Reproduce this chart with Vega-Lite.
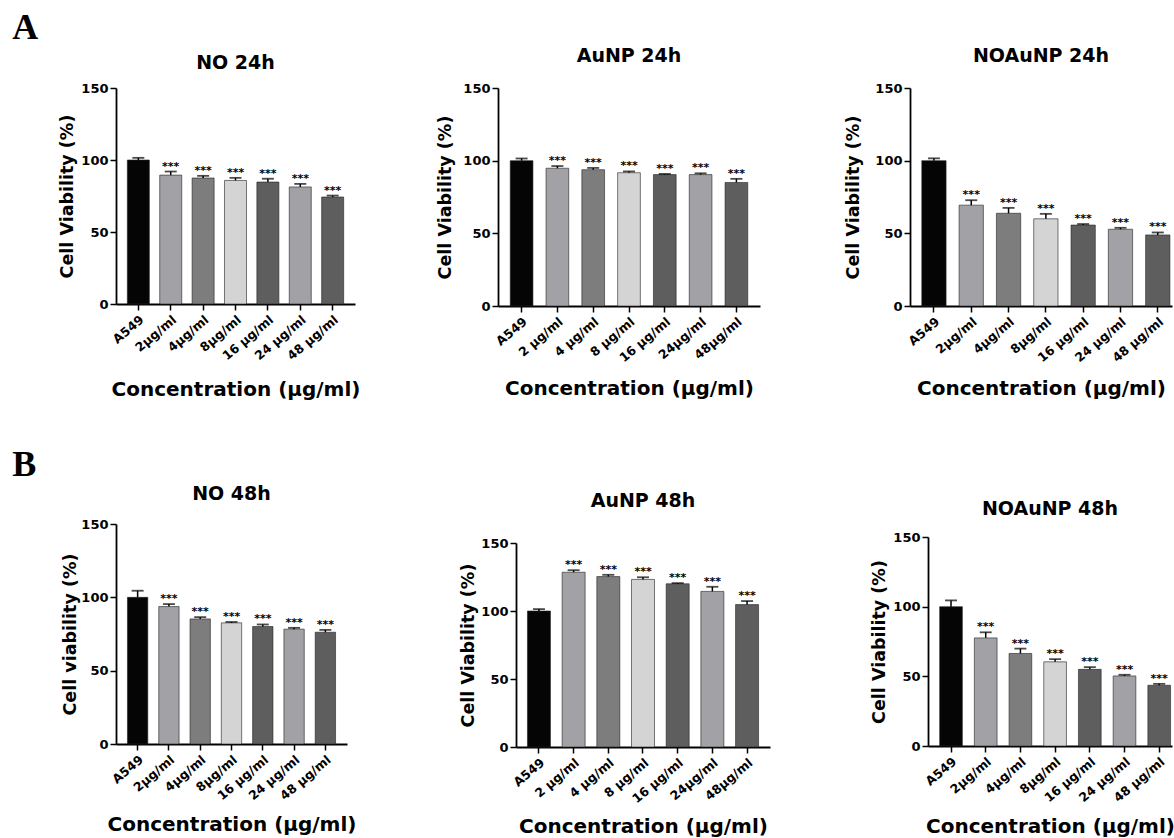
{
  "$schema": "https://vega.github.io/schema/vega-lite/v6.json",
  "padding": {"left": 12, "top": 10, "right": 0, "bottom": 0},
  "background": "white",
  "datasets": {
    "no24": [
      {"label": "A549", "dose": "A549", "mean": 100, "upper": 101.5, "sig": ""},
      {"label": "2µg/ml", "dose": "2", "mean": 89.5, "upper": 92, "sig": "***"},
      {"label": "4µg/ml", "dose": "4", "mean": 87.5, "upper": 89, "sig": "***"},
      {"label": "8µg/ml", "dose": "8", "mean": 85.8, "upper": 87.6, "sig": "***"},
      {"label": "16 µg/ml", "dose": "16", "mean": 84.7, "upper": 87, "sig": "***"},
      {"label": "24 µg/ml", "dose": "24", "mean": 81.3, "upper": 83.4, "sig": "***"},
      {"label": "48 µg/ml", "dose": "48", "mean": 74.3, "upper": 75.3, "sig": "***"}
    ],
    "au24": [
      {"label": "A549", "dose": "A549", "mean": 100, "upper": 101.5, "sig": ""},
      {"label": "2 µg/ml", "dose": "2", "mean": 94.8, "upper": 96.3, "sig": "***"},
      {"label": "4 µg/ml", "dose": "4", "mean": 93.8, "upper": 95, "sig": "***"},
      {"label": "8 µg/ml", "dose": "8", "mean": 91.7, "upper": 92.6, "sig": "***"},
      {"label": "16 µg/ml", "dose": "16", "mean": 90.4, "upper": 90.9, "sig": "***"},
      {"label": "24µg/ml", "dose": "24", "mean": 90.4, "upper": 91.3, "sig": "***"},
      {"label": "48µg/ml", "dose": "48", "mean": 85, "upper": 87.5, "sig": "***"}
    ],
    "noau24": [
      {"label": "A549", "dose": "A549", "mean": 100, "upper": 101.6, "sig": ""},
      {"label": "2µg/ml", "dose": "2", "mean": 69.4, "upper": 72.8, "sig": "***"},
      {"label": "4µg/ml", "dose": "4", "mean": 63.8, "upper": 67.5, "sig": "***"},
      {"label": "8µg/ml", "dose": "8", "mean": 60, "upper": 63.4, "sig": "***"},
      {"label": "16 µg/ml", "dose": "16", "mean": 55.7, "upper": 56.4, "sig": "***"},
      {"label": "24 µg/ml", "dose": "24", "mean": 52.8, "upper": 53.8, "sig": "***"},
      {"label": "48 µg/ml", "dose": "48", "mean": 48.9, "upper": 50.6, "sig": "***"}
    ],
    "no48": [
      {"label": "A549", "dose": "A549", "mean": 100, "upper": 104.5, "sig": ""},
      {"label": "2µg/ml", "dose": "2", "mean": 93.7, "upper": 95.4, "sig": "***"},
      {"label": "4µg/ml", "dose": "4", "mean": 85.3, "upper": 86.5, "sig": "***"},
      {"label": "8µg/ml", "dose": "8", "mean": 82.6, "upper": 83.2, "sig": "***"},
      {"label": "16 µg/ml", "dose": "16", "mean": 80.1, "upper": 81.5, "sig": "***"},
      {"label": "24 µg/ml", "dose": "24", "mean": 78.3, "upper": 79.2, "sig": "***"},
      {"label": "48 µg/ml", "dose": "48", "mean": 76.2, "upper": 77.8, "sig": "***"}
    ],
    "au48": [
      {"label": "A549", "dose": "A549", "mean": 100, "upper": 101.4, "sig": ""},
      {"label": "2 µg/ml", "dose": "2", "mean": 128.5, "upper": 130, "sig": "***"},
      {"label": "4 µg/ml", "dose": "4", "mean": 125.3, "upper": 126.6, "sig": "***"},
      {"label": "8 µg/ml", "dose": "8", "mean": 123.2, "upper": 124.8, "sig": "***"},
      {"label": "16 µg/ml", "dose": "16", "mean": 120, "upper": 120.5, "sig": "***"},
      {"label": "24µg/ml", "dose": "24", "mean": 114.4, "upper": 117.8, "sig": "***"},
      {"label": "48µg/ml", "dose": "48", "mean": 104.7, "upper": 107.3, "sig": "***"}
    ],
    "noau48": [
      {"label": "A549", "dose": "A549", "mean": 100, "upper": 104.5, "sig": ""},
      {"label": "2µg/ml", "dose": "2", "mean": 77.6, "upper": 81.6, "sig": "***"},
      {"label": "4µg/ml", "dose": "4", "mean": 66.4, "upper": 69.9, "sig": "***"},
      {"label": "8µg/ml", "dose": "8", "mean": 60.4, "upper": 62.3, "sig": "***"},
      {"label": "16 µg/ml", "dose": "16", "mean": 55, "upper": 56.6, "sig": "***"},
      {"label": "24 µg/ml", "dose": "24", "mean": 50.3, "upper": 51.1, "sig": "***"},
      {"label": "48 µg/ml", "dose": "48", "mean": 43.6, "upper": 44.6, "sig": "***"}
    ]
  },
  "title": {"text": "A", "anchor": "start", "font": "Liberation Serif", "fontSize": 36, "fontWeight": "bold", "dx": 0, "offset": 0},
  "columns": 3,
  "align": "none",
  "spacing": {"row": 47, "column": 76},
  "concat": [
    {
      "width": 239, "height": 216,
      "data": {"name": "no24"},
      "title": {"text": "NO 24h", "offset": 9},
      "encoding": {"x": {"field": "label", "type": "nominal", "sort": null, "scale": {"paddingInner": 0.32, "paddingOuter": 0.35}, "axis": {"title": "Concentration (µg/ml)", "labelFontSize": 12.5, "titlePadding": 17}}},
      "layer": [
        {"mark": {"type": "bar", "stroke": "#222", "strokeWidth": 0.6}, "encoding": {"y": {"field": "mean", "type": "quantitative", "scale": {"domain": [0, 150]}, "title": "Cell Viability (%)", "axis": {"values": [0, 50, 100, 150], "labelFontSize": 13, "titlePadding": 4}}, "color": {"field": "dose", "type": "nominal", "scale": {"domain": ["A549", "2", "4", "8", "16", "24", "48"], "range": ["#050505", "#a1a1a6", "#7d7d7d", "#d4d4d4", "#5e5e5e", "#a1a1a6", "#5e5e5e"]}, "legend": null}}},
        {"mark": {"type": "rule", "color": "#000", "strokeWidth": 1.5}, "encoding": {"y": {"field": "mean", "type": "quantitative", "scale": {"domain": [0, 150]}, "title": "Cell Viability (%)", "axis": {"values": [0, 50, 100, 150], "labelFontSize": 13, "titlePadding": 4}}, "y2": {"field": "upper"}}},
        {"mark": {"type": "tick", "color": "#000", "thickness": 1.8, "size": 12}, "encoding": {"y": {"field": "upper", "type": "quantitative", "scale": {"domain": [0, 150]}, "title": "Cell Viability (%)", "axis": {"values": [0, 50, 100, 150], "labelFontSize": 13, "titlePadding": 4}}}},
        {"mark": {"type": "text", "font": "DejaVu Sans", "fontWeight": "bold", "fontSize": 11, "baseline": "alphabetic", "dy": -2, "color": "#000"}, "encoding": {"y": {"field": "upper", "type": "quantitative", "scale": {"domain": [0, 150]}, "title": "Cell Viability (%)", "axis": {"values": [0, 50, 100, 150], "labelFontSize": 13, "titlePadding": 4}}, "text": {"field": "sig"}}}
      ]
    },
    {
      "width": 262, "height": 218,
      "data": {"name": "au24"},
      "title": {"text": "AuNP  24h", "offset": 16},
      "encoding": {"x": {"field": "label", "type": "nominal", "sort": null, "scale": {"paddingInner": 0.366, "paddingOuter": 0.342}, "axis": {"title": "Concentration (µg/ml)", "labelFontSize": 12.5, "titlePadding": 14}}},
      "layer": [
        {"mark": {"type": "bar", "stroke": "#222", "strokeWidth": 0.6}, "encoding": {"y": {"field": "mean", "type": "quantitative", "scale": {"domain": [0, 150]}, "title": "Cell Viability (%)", "axis": {"values": [0, 50, 100, 150], "labelFontSize": 13, "titlePadding": 8}}, "color": {"field": "dose", "type": "nominal", "scale": {"domain": ["A549", "2", "4", "8", "16", "24", "48"], "range": ["#050505", "#a1a1a6", "#7d7d7d", "#d4d4d4", "#5e5e5e", "#a1a1a6", "#5e5e5e"]}, "legend": null}}},
        {"mark": {"type": "rule", "color": "#000", "strokeWidth": 1.5}, "encoding": {"y": {"field": "mean", "type": "quantitative", "scale": {"domain": [0, 150]}, "title": "Cell Viability (%)", "axis": {"values": [0, 50, 100, 150], "labelFontSize": 13, "titlePadding": 8}}, "y2": {"field": "upper"}}},
        {"mark": {"type": "tick", "color": "#000", "thickness": 1.8, "size": 12}, "encoding": {"y": {"field": "upper", "type": "quantitative", "scale": {"domain": [0, 150]}, "title": "Cell Viability (%)", "axis": {"values": [0, 50, 100, 150], "labelFontSize": 13, "titlePadding": 8}}}},
        {"mark": {"type": "text", "font": "DejaVu Sans", "fontWeight": "bold", "fontSize": 11, "baseline": "alphabetic", "dy": -2, "color": "#000"}, "encoding": {"y": {"field": "upper", "type": "quantitative", "scale": {"domain": [0, 150]}, "title": "Cell Viability (%)", "axis": {"values": [0, 50, 100, 150], "labelFontSize": 13, "titlePadding": 8}}, "text": {"field": "sig"}}}
      ]
    },
    {
      "title": {"text": " ", "orient": "left", "fontSize": 1, "offset": 7},
      "vconcat": [
        {
          "width": 262, "height": 218,
          "data": {"name": "noau24"},
          "title": {"text": "NOAuNP  24h", "offset": 16},
          "encoding": {"x": {"field": "label", "type": "nominal", "sort": null, "scale": {"paddingInner": 0.349, "paddingOuter": 0.186, "align": 0.85}, "axis": {"title": "Concentration (µg/ml)", "labelFontSize": 12.5, "titlePadding": 14}}},
          "layer": [
            {"mark": {"type": "bar", "stroke": "#222", "strokeWidth": 0.6}, "encoding": {"y": {"field": "mean", "type": "quantitative", "scale": {"domain": [0, 150]}, "title": "Cell Viability (%)", "axis": {"values": [0, 50, 100, 150], "labelFontSize": 13, "titlePadding": 12}}, "color": {"field": "dose", "type": "nominal", "scale": {"domain": ["A549", "2", "4", "8", "16", "24", "48"], "range": ["#050505", "#a1a1a6", "#7d7d7d", "#d4d4d4", "#5e5e5e", "#a1a1a6", "#5e5e5e"]}, "legend": null}}},
            {"mark": {"type": "rule", "color": "#000", "strokeWidth": 1.5}, "encoding": {"y": {"field": "mean", "type": "quantitative", "scale": {"domain": [0, 150]}, "title": "Cell Viability (%)", "axis": {"values": [0, 50, 100, 150], "labelFontSize": 13, "titlePadding": 12}}, "y2": {"field": "upper"}}},
            {"mark": {"type": "tick", "color": "#000", "thickness": 1.8, "size": 12}, "encoding": {"y": {"field": "upper", "type": "quantitative", "scale": {"domain": [0, 150]}, "title": "Cell Viability (%)", "axis": {"values": [0, 50, 100, 150], "labelFontSize": 13, "titlePadding": 12}}}},
            {"mark": {"type": "text", "font": "DejaVu Sans", "fontWeight": "bold", "fontSize": 11, "baseline": "alphabetic", "dy": -2, "color": "#000"}, "encoding": {"y": {"field": "upper", "type": "quantitative", "scale": {"domain": [0, 150]}, "title": "Cell Viability (%)", "axis": {"values": [0, 50, 100, 150], "labelFontSize": 13, "titlePadding": 12}}, "text": {"field": "sig"}}}
          ]
        }
      ]
    },
    {
      "title": {"text": "B", "anchor": "start", "font": "Liberation Serif", "fontSize": 36, "fontWeight": "bold", "dx": -49.5, "offset": 1},
      "vconcat": [
        {
          "width": 231, "height": 220,
          "data": {"name": "no48"},
          "title": {"text": "NO 48h", "offset": 14},
          "encoding": {"x": {"field": "label", "type": "nominal", "sort": null, "scale": {"paddingInner": 0.35, "paddingOuter": 0.366}, "axis": {"title": "Concentration (µg/ml)", "labelFontSize": 12.5, "titlePadding": 12}}},
          "layer": [
            {"mark": {"type": "bar", "stroke": "#222", "strokeWidth": 0.6}, "encoding": {"y": {"field": "mean", "type": "quantitative", "scale": {"domain": [0, 150]}, "title": "Cell viability (%)", "axis": {"values": [0, 50, 100, 150], "labelFontSize": 13, "titlePadding": 1}}, "color": {"field": "dose", "type": "nominal", "scale": {"domain": ["A549", "2", "4", "8", "16", "24", "48"], "range": ["#050505", "#a1a1a6", "#7d7d7d", "#d4d4d4", "#5e5e5e", "#a1a1a6", "#5e5e5e"]}, "legend": null}}},
            {"mark": {"type": "rule", "color": "#000", "strokeWidth": 1.5}, "encoding": {"y": {"field": "mean", "type": "quantitative", "scale": {"domain": [0, 150]}, "title": "Cell viability (%)", "axis": {"values": [0, 50, 100, 150], "labelFontSize": 13, "titlePadding": 1}}, "y2": {"field": "upper"}}},
            {"mark": {"type": "tick", "color": "#000", "thickness": 1.8, "size": 12}, "encoding": {"y": {"field": "upper", "type": "quantitative", "scale": {"domain": [0, 150]}, "title": "Cell viability (%)", "axis": {"values": [0, 50, 100, 150], "labelFontSize": 13, "titlePadding": 1}}}},
            {"mark": {"type": "text", "font": "DejaVu Sans", "fontWeight": "bold", "fontSize": 11, "baseline": "alphabetic", "dy": -2, "color": "#000"}, "encoding": {"y": {"field": "upper", "type": "quantitative", "scale": {"domain": [0, 150]}, "title": "Cell viability (%)", "axis": {"values": [0, 50, 100, 150], "labelFontSize": 13, "titlePadding": 1}}, "text": {"field": "sig"}}}
          ]
        }
      ]
    },
    {
      "title": {"text": " ", "anchor": "start", "font": "Liberation Serif", "fontSize": 36, "fontWeight": "bold", "dx": -23, "offset": 8},
      "vconcat": [
        {
          "width": 254, "height": 204,
          "data": {"name": "au48"},
          "title": {"text": "AuNP  48h", "offset": 26},
          "encoding": {"x": {"field": "label", "type": "nominal", "sort": null, "scale": {"paddingInner": 0.337, "paddingOuter": 0.33}, "axis": {"title": "Concentration (µg/ml)", "labelFontSize": 12.5, "titlePadding": 11}}},
          "layer": [
            {"mark": {"type": "bar", "stroke": "#222", "strokeWidth": 0.6}, "encoding": {"y": {"field": "mean", "type": "quantitative", "scale": {"domain": [0, 150]}, "title": "Cell Viability (%)", "axis": {"values": [0, 50, 100, 150], "labelFontSize": 13, "titlePadding": 3}}, "color": {"field": "dose", "type": "nominal", "scale": {"domain": ["A549", "2", "4", "8", "16", "24", "48"], "range": ["#050505", "#a1a1a6", "#7d7d7d", "#d4d4d4", "#5e5e5e", "#a1a1a6", "#5e5e5e"]}, "legend": null}}},
            {"mark": {"type": "rule", "color": "#000", "strokeWidth": 1.5}, "encoding": {"y": {"field": "mean", "type": "quantitative", "scale": {"domain": [0, 150]}, "title": "Cell Viability (%)", "axis": {"values": [0, 50, 100, 150], "labelFontSize": 13, "titlePadding": 3}}, "y2": {"field": "upper"}}},
            {"mark": {"type": "tick", "color": "#000", "thickness": 1.8, "size": 12}, "encoding": {"y": {"field": "upper", "type": "quantitative", "scale": {"domain": [0, 150]}, "title": "Cell Viability (%)", "axis": {"values": [0, 50, 100, 150], "labelFontSize": 13, "titlePadding": 3}}}},
            {"mark": {"type": "text", "font": "DejaVu Sans", "fontWeight": "bold", "fontSize": 11, "baseline": "alphabetic", "dy": -2, "color": "#000"}, "encoding": {"y": {"field": "upper", "type": "quantitative", "scale": {"domain": [0, 150]}, "title": "Cell Viability (%)", "axis": {"values": [0, 50, 100, 150], "labelFontSize": 13, "titlePadding": 3}}, "text": {"field": "sig"}}}
          ]
        }
      ]
    },
    {
      "title": {"text": " ", "anchor": "start", "font": "Liberation Serif", "fontSize": 36, "fontWeight": "bold", "dx": -16, "offset": 16},
      "vconcat": [
        {
          "width": 244, "height": 209,
          "data": {"name": "noau48"},
          "title": {"text": "NOAuNP  48h", "offset": 12},
          "encoding": {"x": {"field": "label", "type": "nominal", "sort": null, "scale": {"paddingInner": 0.346, "paddingOuter": 0.189, "align": 0.89}, "axis": {"title": "Concentration (µg/ml)", "labelFontSize": 12.5, "titlePadding": 12}}},
          "layer": [
            {"mark": {"type": "bar", "stroke": "#222", "strokeWidth": 0.6}, "encoding": {"y": {"field": "mean", "type": "quantitative", "scale": {"domain": [0, 150]}, "title": "Cell Viability (%)", "axis": {"values": [0, 50, 100, 150], "labelFontSize": 13, "titlePadding": 4}}, "color": {"field": "dose", "type": "nominal", "scale": {"domain": ["A549", "2", "4", "8", "16", "24", "48"], "range": ["#050505", "#a1a1a6", "#7d7d7d", "#d4d4d4", "#5e5e5e", "#a1a1a6", "#5e5e5e"]}, "legend": null}}},
            {"mark": {"type": "rule", "color": "#000", "strokeWidth": 1.5}, "encoding": {"y": {"field": "mean", "type": "quantitative", "scale": {"domain": [0, 150]}, "title": "Cell Viability (%)", "axis": {"values": [0, 50, 100, 150], "labelFontSize": 13, "titlePadding": 4}}, "y2": {"field": "upper"}}},
            {"mark": {"type": "tick", "color": "#000", "thickness": 1.8, "size": 12}, "encoding": {"y": {"field": "upper", "type": "quantitative", "scale": {"domain": [0, 150]}, "title": "Cell Viability (%)", "axis": {"values": [0, 50, 100, 150], "labelFontSize": 13, "titlePadding": 4}}}},
            {"mark": {"type": "text", "font": "DejaVu Sans", "fontWeight": "bold", "fontSize": 11, "baseline": "alphabetic", "dy": -2, "color": "#000"}, "encoding": {"y": {"field": "upper", "type": "quantitative", "scale": {"domain": [0, 150]}, "title": "Cell Viability (%)", "axis": {"values": [0, 50, 100, 150], "labelFontSize": 13, "titlePadding": 4}}, "text": {"field": "sig"}}}
          ]
        }
      ]
    }
  ],
  "config": {
    "view": {"stroke": null},
    "font": "DejaVu Sans",
    "axis": {"domainColor": "#000", "domainWidth": 1.8, "tickColor": "#000", "tickWidth": 1.5, "tickSize": 6, "labelColor": "#000", "labelFont": "DejaVu Sans", "labelFontWeight": "bold", "titleFont": "DejaVu Sans", "titleFontWeight": "bold", "titleColor": "#000", "grid": false},
    "axisY": {"titleFontSize": 17.5, "labelPadding": 2},
    "axisX": {"labelAngle": -40, "titleFontSize": 20, "labelPadding": 3},
    "title": {"font": "DejaVu Sans", "fontSize": 19, "fontWeight": "bold", "color": "#000"}
  }
}
